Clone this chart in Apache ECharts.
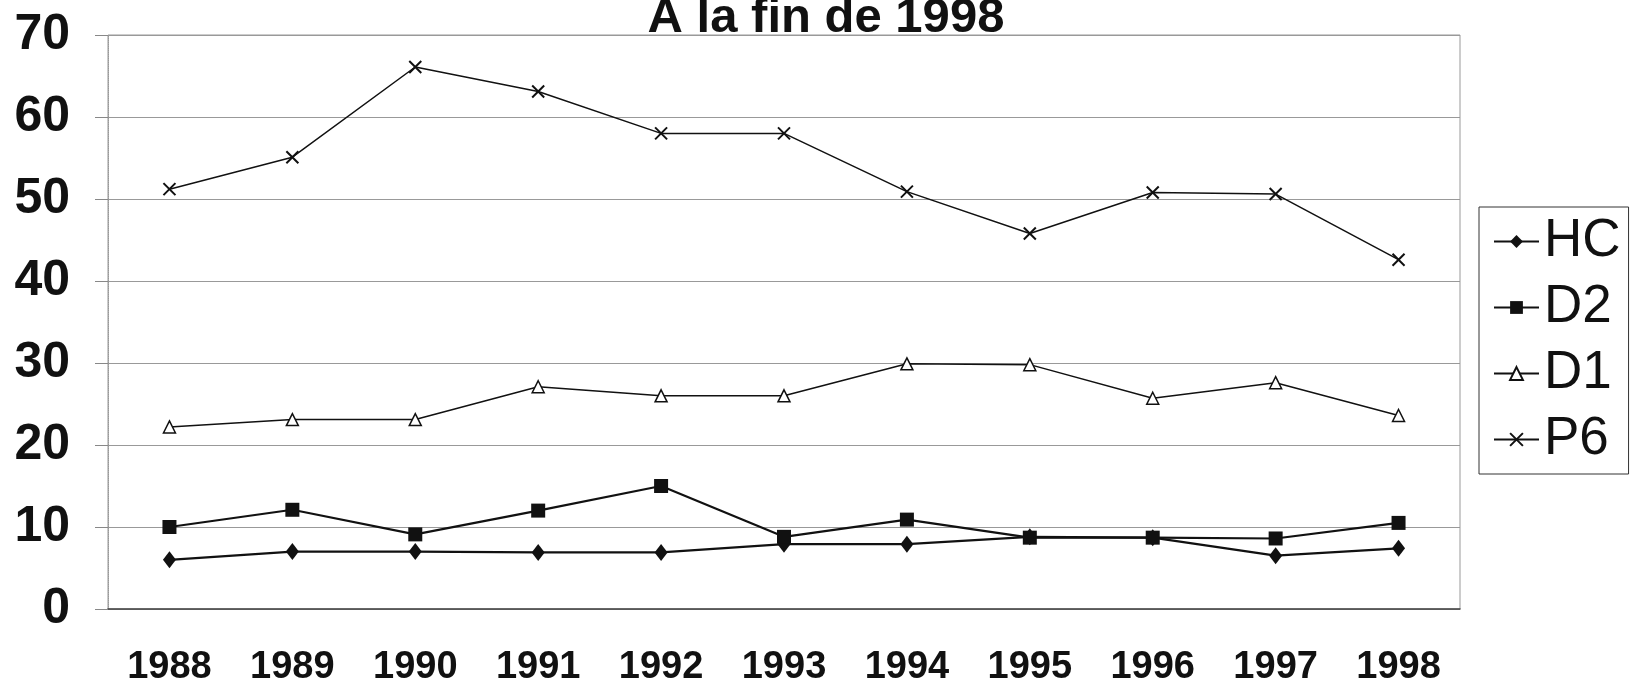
<!DOCTYPE html>
<html>
<head>
<meta charset="utf-8">
<script src="https://cdn.jsdelivr.net/npm/echarts@6/dist/echarts.min.js"></script>
<style>
html,body{margin:0;padding:0;background:#fff;}
#main{width:1634px;height:695px;}
</style>
</head>
<body>
<div id="main"></div>
<script>
const titleText = 'A la fin de 1998';
const years = ['1988','1989','1990','1991','1992','1993','1994','1995','1996','1997','1998'];
const hcValues = [6.0, 7.0, 7.0, 6.9, 6.9, 7.9, 7.9, 8.8, 8.7, 6.5, 7.4];
const d2Values = [10.0, 12.1, 9.1, 12.0, 15.0, 8.8, 10.9, 8.7, 8.7, 8.6, 10.5];
const d1Values = [22.2, 23.1, 23.1, 27.1, 26.0, 26.0, 29.9, 29.8, 25.7, 27.6, 23.6];
const p6Values = [51.2, 55.1, 66.1, 63.1, 58.0, 58.0, 50.9, 45.8, 50.8, 50.6, 42.6];
const yTicks = [0, 10, 20, 30, 40, 50, 60, 70];

const chart = echarts.init(document.getElementById('main'));
const crossPath = 'path://M0,0L10,10M10,0L0,10';
chart.setOption({
  animation: false,
  backgroundColor: '#fff',
  title: {
    text: titleText,
    left: 826,
    top: -6,
    textAlign: 'center',
    padding: 0,
    textStyle: {fontFamily: 'Liberation Sans', fontWeight: 'bold', fontSize: 49, color: '#111'}
  },
  legend: {
    orient: 'vertical',
    left: 1479,
    top: 207,
    padding: [8, 8, 8, 14],
    itemWidth: 45,
    itemHeight: 16,
    itemGap: 13,
    borderColor: '#333',
    borderWidth: 1,
    textStyle: {fontFamily: 'Liberation Sans', fontSize: 53, lineHeight: 52, color: '#111'},
    data: ['HC', 'D2', 'D1', 'P6']
  },
  grid: {left: 108, right: 174, top: 35, bottom: 86, show: true, borderColor: '#999', borderWidth: 1},
  xAxis: {
    type: 'category',
    data: years,
    boundaryGap: true,
    axisLine: {lineStyle: {color: '#444', width: 1.5}},
    axisTick: {show: false},
    axisLabel: {fontFamily: 'Liberation Sans', fontWeight: 'bold', fontSize: 38, color: '#111', margin: 40}
  },
  yAxis: {
    type: 'value',
    min: 0, max: 70, interval: 10,
    axisLine: {show: true, lineStyle: {color: '#999', type: 'dotted'}},
    axisTick: {show: true, length: 13, lineStyle: {color: '#888'}},
    splitLine: {lineStyle: {color: '#999', width: 1}},
    axisLabel: {
      fontFamily: 'Liberation Sans', fontWeight: 'bold', fontSize: 50, color: '#111', margin: 38,
      formatter: v => (yTicks.indexOf(v) >= 0 ? String(v) : '')
    }
  },
  series: [
    {name: 'HC', type: 'line', data: hcValues, color: '#111', symbol: 'diamond', symbolSize: [13, 17],
     lineStyle: {color: '#111', width: 2.2}, itemStyle: {color: '#111'}, z: 4},
    {name: 'D2', type: 'line', data: d2Values, color: '#111', symbol: 'rect', symbolSize: 14,
     lineStyle: {color: '#111', width: 2.2}, itemStyle: {color: '#111'}, z: 5},
    {name: 'D1', type: 'line', data: d1Values, color: '#111', symbol: 'triangle', symbolSize: 12,
     lineStyle: {color: '#111', width: 1.5}, itemStyle: {color: '#fff', borderColor: '#111', borderWidth: 1.5}, z: 3},
    {name: 'P6', type: 'line', data: p6Values, color: '#111', symbol: crossPath, symbolSize: 12,
     lineStyle: {color: '#111', width: 1.5}, itemStyle: {color: 'none', borderColor: '#111', borderWidth: 2}, z: 3}
  ]
});
</script>
</body>
</html>
